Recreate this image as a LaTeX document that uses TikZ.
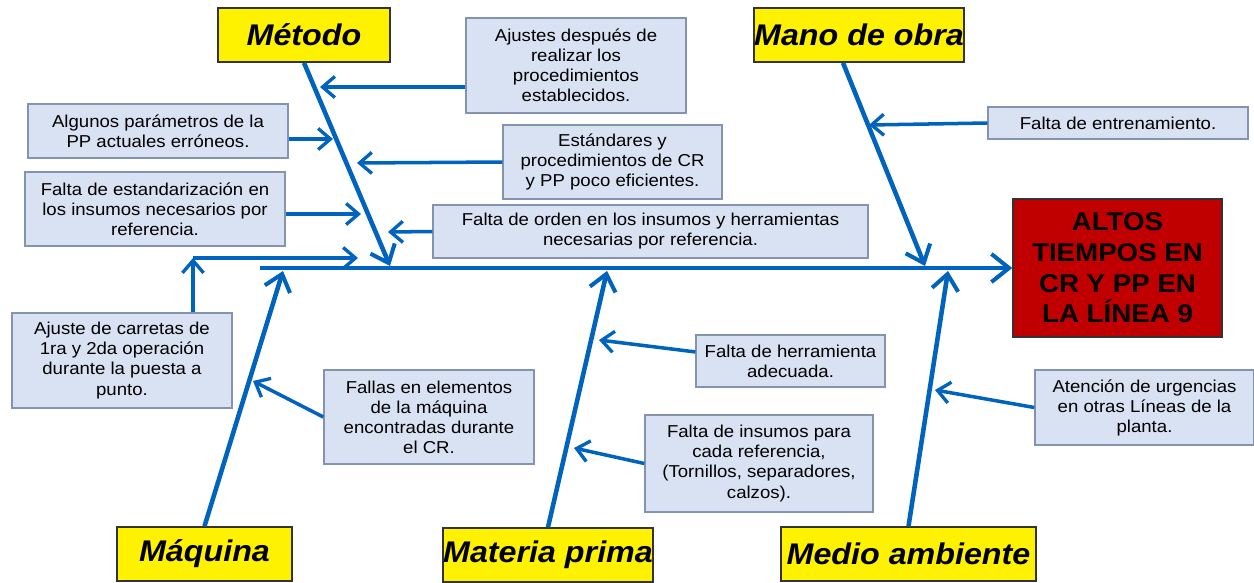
\documentclass[tikz,border=0pt]{standalone}
\usepackage{fontspec}
\setmainfont{Liberation Sans}[FakeStretch=1.08]
\usetikzlibrary{arrows.meta,calc}
\definecolor{bblue}{RGB}{0,99,189}
\definecolor{boxblue}{RGB}{217,226,242}
\definecolor{bordgray}{RGB}{132,148,176}
\definecolor{resred}{RGB}{192,0,0}
\newcommand{\causefont}{\fontsize{9.8}{11.4}\selectfont}
\newcommand{\titlefont}{\fontsize{17}{20}\selectfont\bfseries\itshape}
\newcommand{\resfont}{\fontsize{14.6}{17.4}\selectfont\bfseries}
\begin{document}
\begin{tikzpicture}[x=0.02cm,y=-0.02cm,
  cause/.style={draw=bordgray, fill=boxblue, line width=0.8pt, align=center, inner sep=0pt, font=\causefont},
  titlebox/.style={draw=black!80, fill=yellow, line width=0.9pt, inner sep=0pt, minimum height=1.08cm, font=\titlefont},
  bone/.style={draw=bblue, line width=2.6pt, -{Straight Barb[length=9pt,width=15pt,line width=2.3pt]}},
  carrow/.style={draw=bblue, line width=2pt, -{Straight Barb[length=7pt,width=12pt,line width=1.9pt]}}]
\useasboundingbox (0,0) rectangle (1254,582);
\fill[white] (0,0) rectangle (1254,582);

% category boxes
\node[titlebox, minimum width=3.44cm] (metodo) at (304,35) {Método};
\node[titlebox, minimum width=4.16cm] (mano) at (859,35) {Mano de obra};
\node[titlebox, minimum width=3.5cm] (maquina) at (204.5,554) {Máquina};
\node[titlebox, minimum width=4.16cm] (materia) at (548,555) {Materia prima};
\node[titlebox, minimum width=5.1cm] (medio) at (908.5,554) {Medio ambiente};

% result
\node[draw=black!80, fill=resred, line width=0.9pt, inner sep=0pt, align=center,
  minimum width=4.18cm, minimum height=2.76cm, font=\resfont] (result) at (1117.5,268)
  {ALTOS\\TIEMPOS EN\\CR Y PP EN\\LA LÍNEA 9};

% cause boxes
\node[cause, minimum width=4.4cm, minimum height=1.9cm] (c1) at (576,65.5)
  {Ajustes después de\\realizar los\\procedimientos\\establecidos.};
\node[cause, minimum width=5.2cm, minimum height=1.08cm] (c2) at (158,131)
  {Algunos parámetros de la\\PP actuales erróneos.};
\node[cause, minimum width=4.38cm, minimum height=1.48cm] (c3) at (612.5,162)
  {Estándares y\\procedimientos de CR\\y PP poco eficientes.};
\node[cause, minimum width=5.2cm, minimum height=1.48cm] (c4) at (155,209)
  {Falta de estandarización en\\los insumos necesarios por\\referencia.};
\node[cause, minimum width=8.7cm, minimum height=1.06cm] (c5) at (650.5,231.5)
  {Falta de orden en los insumos y herramientas\\necesarias por referencia.};
\node[cause, minimum width=5.2cm, minimum height=0.64cm] (c6) at (1118,123)
  {Falta de entrenamiento.};
\node[cause, minimum width=4.4cm, minimum height=1.9cm] (c7) at (122,360.5)
  {Ajuste de carretas de\\1ra y 2da operación\\durante la puesta a\\punto.};
\node[cause, minimum width=4.2cm, minimum height=1.88cm] (c8) at (429,417)
  {Fallas en elementos\\de la máquina\\encontradas durante\\el CR.};
\node[cause, minimum width=3.78cm, minimum height=1.04cm] (c9) at (790.5,361)
  {Falta de herramienta\\adecuada.};
\node[cause, minimum width=4.56cm, minimum height=1.94cm] (c10) at (759,463.5)
  {Falta de insumos para\\cada referencia,\\(Tornillos, separadores,\\calzos).};
\node[cause, minimum width=4.38cm, minimum height=1.5cm] (c11) at (1144.5,407.5)
  {Atención de urgencias\\en otras Líneas de la\\planta.};

% spine and bones
\coordinate (sp0) at (260,268);
\draw[bone, -{Straight Barb[length=10pt,width=16pt,line width=2.3pt]}] (sp0) -- (result.west);
\coordinate (mt) at (390,266);
\coordinate (mo) at (925,266);
\coordinate (mq) at (283,271);
\coordinate (mp) at (607,271);
\coordinate (ma) at (948,271);
\draw[bone] (metodo.south) -- (mt);
\draw[bone] ([xshift=-0.32cm]mano.south) -- (mo);
\draw[bone] (maquina.north) -- (mq);
\draw[bone] (materia.north) -- (mp);
\draw[bone] (medio.north) -- (ma);

% cause arrows
\coordinate (t1) at (320,87);
\coordinate (t2) at (333,139);
\coordinate (t3) at (357,163);
\coordinate (t4) at (361,214);
\coordinate (t5) at (388,232);
\coordinate (t6) at (869,125);
\coordinate (k7) at (193,258);
\coordinate (t7) at (358,258);
\coordinate (t8) at (253,381);
\coordinate (t9) at (599,340);
\coordinate (t10) at (574,448);
\coordinate (t11) at (935,390);
\draw[carrow] (t1 -| c1.west) -- (t1);
\draw[carrow] (t2 -| c2.east) -- (t2);
\draw[carrow] (c3.west) -- (t3);
\draw[carrow] (t4 -| c4.east) -- (t4);
\draw[carrow] (c5.west) -- (t5);
\draw[carrow] (c6.west) -- (t6);
\draw[carrow] (k7 |- c7.north) -- (k7);
\draw[carrow] (k7) -- (t7);
\draw[carrow] (c8.west) -- (t8);
\draw[carrow] ($(c9.north west)!0.33!(c9.south west)$) -- (t9);
\draw[carrow] (c10.west) -- (t10);
\draw[carrow] (c11.west) -- (t11);
\end{tikzpicture}
\end{document}
